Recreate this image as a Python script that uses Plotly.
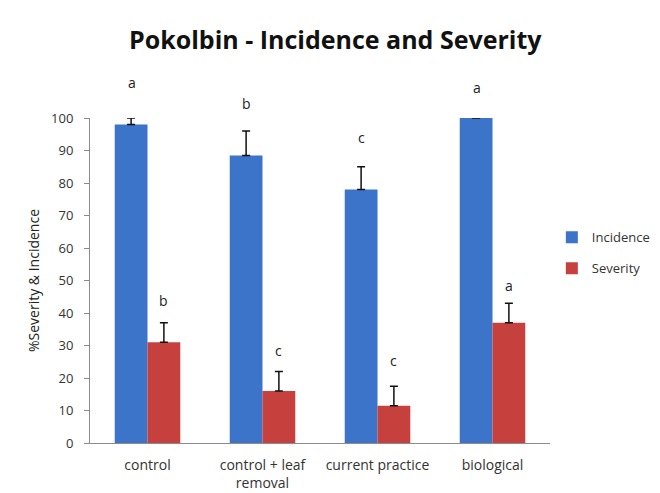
import plotly.graph_objects as go

categories = ["control", "control + leaf<br>removal", "current practice", "biological"]
incidence = [98, 88.5, 78, 100]
incidence_err = [2, 7.5, 7, 0]
severity = [31, 16, 11.5, 37]
severity_err = [6, 6, 6, 6]
incidence_letters = ["a", "b", "c", "a"]
incidence_letter_y = [111, 104.5, 94, 109.5]
severity_letters = ["b", "c", "c", "a"]
severity_letter_y = [44, 28.5, 25.5, 48.5]
yticks = [0, 10, 20, 30, 40, 50, 60, 70, 80, 90, 100]

fig = go.Figure()
fig.add_trace(go.Bar(
    name="Incidence", x=categories, y=incidence, legendgroup="inc",
    marker=dict(color="#3b74c8", line=dict(width=0)),
    error_y=dict(type="data", array=incidence_err, arrayminus=[0]*4, symmetric=False,
                 color="#111111", thickness=1.5, width=4),
))
fig.add_trace(go.Bar(
    name="Severity", x=categories, y=severity, legendgroup="sev",
    marker=dict(color="#c6413d", line=dict(width=0)),
    error_y=dict(type="data", array=severity_err, arrayminus=[0]*4, symmetric=False,
                 color="#111111", thickness=1.5, width=4),
))

for i, c in enumerate(categories):
    fig.add_annotation(x=c, y=incidence_letter_y[i] / 100, yref="paper", yanchor="middle",
                       text=incidence_letters[i], showarrow=False,
                       xshift=-16, font=dict(size=14, color="#222222", family="Open Sans"))
    fig.add_annotation(x=c, y=severity_letter_y[i] / 100, yref="paper", yanchor="middle",
                       text=severity_letters[i], showarrow=False,
                       xshift=16, font=dict(size=14, color="#222222", family="Open Sans"))

fig.update_layout(
    width=660, height=493,
    margin=dict(l=90, r=110, t=118, b=50, autoexpand=False),
    paper_bgcolor="white", plot_bgcolor="white",
    barmode="group", bargap=0.43, bargroupgap=0,
    title=dict(text="<b>Pokolbin - Incidence and Severity</b>", x=0.508, xanchor="center",
               y=0.918, yanchor="middle",
               font=dict(size=25, color="#111111", family="Open Sans")),
    font=dict(family="Open Sans", size=12, color="#333333"),
    legend=dict(x=1.004, y=0.585, xanchor="left", yanchor="middle",
                font=dict(size=13, color="#333333"), tracegroupgap=11, itemwidth=30),
    xaxis=dict(showline=True, linecolor="#8c8c8c", linewidth=1, ticks="",
               automargin=False, ticklabelstandoff=9,
               tickfont=dict(size=14, color="#333333")),
    yaxis=dict(range=[0, 100], tickvals=yticks, showgrid=False, showline=True,
               linecolor="#8c8c8c", linewidth=1, ticks="outside", ticklen=5,
               tickcolor="#8c8c8c", zeroline=False, automargin=False,
               ticklabelstandoff=8,
               tickfont=dict(size=13, color="#333333"),
               title=dict(text="%Severity & Incidence", font=dict(size=14, color="#222222"),
                          standoff=8)),
)

fig.write_html("out.html", config={"displayModeBar": False},
               post_script="document.body.style.margin='0px';")
